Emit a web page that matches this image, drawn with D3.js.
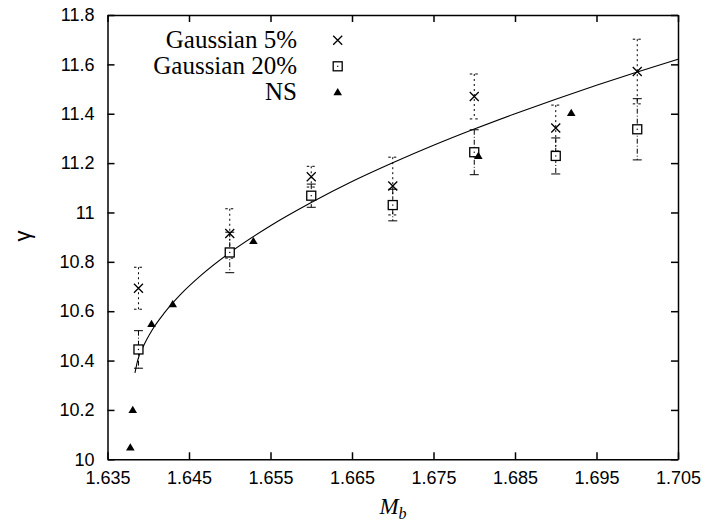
<!DOCTYPE html>
<html lang="en">
<head>
<meta charset="UTF-8">
<title>gamma vs M_b</title>
<style>
  body { margin: 0; background: #fff; }
  svg { display: block; }
  .serif { font-family: "Liberation Serif", "Times New Roman", serif; fill: #000; }
</style>
</head>
<body>
<svg width="708" height="525"></svg>
<script src="https://d3js.org/d3.v7.min.js"></script>
<script>
    // data
    const xTicks = [1.635, 1.645, 1.655, 1.665, 1.675, 1.685, 1.695, 1.705];
    const xTickLabels = ["1.635", "1.645", "1.655", "1.665", "1.675", "1.685", "1.695", "1.705"];
    const yTicks = [10, 10.2, 10.4, 10.6, 10.8, 11, 11.2, 11.4, 11.6, 11.8];
    const yTickLabels = ["10", "10.2", "10.4", "10.6", "10.8", "11", "11.2", "11.4", "11.6", "11.8"];

    // Gaussian runs share the same masses
    const gaussMb = [1.6388, 1.65, 1.66, 1.67, 1.68, 1.69, 1.70];
    const gauss5 = [10.693, 10.915, 11.145, 11.107, 11.470, 11.342, 11.571];
    const gauss5Err = [0.085, 0.100, 0.042, 0.117, 0.091, 0.093, 0.131];
    const gauss20 = [10.445, 10.838, 11.068, 11.030, 11.244, 11.229, 11.337];
    const gauss20Err = [0.076, 0.082, 0.047, 0.064, 0.091, 0.073, 0.124];

    const nsMb = [1.6378, 1.6381, 1.6404, 1.6430, 1.6529, 1.6805, 1.6919];
    const nsGamma = [10.048, 10.200, 10.548, 10.628, 10.884, 11.229, 11.403];

    // fitted curve, read point by point
    const fitMb = [1.63837, 1.6387, 1.6394, 1.6405, 1.6420, 1.6440, 1.6465, 1.650, 1.655, 1.660,
                   1.665, 1.670, 1.675, 1.680, 1.685, 1.690, 1.695, 1.700, 1.705];
    const fitGamma = [10.350, 10.401, 10.458, 10.525, 10.594, 10.669, 10.746, 10.837, 10.946, 11.040,
                      11.125, 11.201, 11.272, 11.338, 11.400, 11.459, 11.515, 11.569, 11.621];

    const legendNames = ["Gaussian 5%", "Gaussian 20%", "NS"];

    const svg = d3.select("svg");
    const plotLeft = 107.5, plotRight = 678, plotTop = 15, plotBottom = 459.3;

    const x = d3.scaleLinear().domain([1.635, 1.705]).range([plotLeft, plotRight]);
    const y = d3.scaleLinear().domain([10, 11.8]).range([plotBottom, plotTop]);

    // axes with inward ticks on all four sides
    function styleAxis(g) {
        g.selectAll("path.domain").attr("stroke", "#000").attr("stroke-width", 1.5);
        g.selectAll(".tick line").attr("stroke", "#000").attr("stroke-width", 1.5);
        g.selectAll(".tick text")
            .attr("font-family", "'Liberation Sans', Arial, sans-serif")
            .attr("font-size", 18)
            .attr("fill", "#000");
    }

    svg.append("g")
        .attr("transform", `translate(0,${plotBottom})`)
        .call(d3.axisBottom(x).tickValues(xTicks).tickFormat((d, i) => xTickLabels[i])
            .tickSizeInner(-7).tickSizeOuter(0).tickPadding(12))
        .call(styleAxis);

    svg.append("g")
        .attr("transform", `translate(0,${plotTop})`)
        .call(d3.axisTop(x).tickValues(xTicks).tickFormat("")
            .tickSizeInner(-7).tickSizeOuter(0))
        .call(styleAxis);

    svg.append("g")
        .attr("transform", `translate(${plotLeft},0)`)
        .call(d3.axisLeft(y).tickValues(yTicks).tickFormat((d, i) => yTickLabels[i])
            .tickSizeInner(-7).tickSizeOuter(0).tickPadding(13))
        .call(styleAxis);

    svg.append("g")
        .attr("transform", `translate(${plotRight},0)`)
        .call(d3.axisRight(y).tickValues(yTicks).tickFormat("")
            .tickSizeInner(-7).tickSizeOuter(0))
        .call(styleAxis);

    // axis titles
    svg.append("text")
        .attr("transform", "translate(30,236) rotate(-90)")
        .attr("text-anchor", "middle")
        .attr("font-family", "'Liberation Sans', Arial, sans-serif")
        .attr("font-size", 22)
        .text("γ");

    const mb = svg.append("text")
        .attr("class", "serif")
        .attr("x", 393)
        .attr("y", 514)
        .attr("text-anchor", "middle")
        .attr("font-size", 23)
        .attr("font-style", "italic");
    mb.append("tspan").text("M");
    mb.append("tspan").attr("font-size", 16).attr("dy", 5).text("b");

    // fit curve
    const line = d3.line()
        .x((d, i) => x(fitMb[i]))
        .y(d => y(d))
        .curve(d3.curveMonotoneX);

    svg.append("path")
        .attr("d", line(fitGamma))
        .attr("fill", "none")
        .attr("stroke", "#000")
        .attr("stroke-width", 1.1);

    // error bars
    function errorBars(vals, errs, dash, capDash) {
        const g = svg.append("g").attr("stroke", "#000").attr("stroke-width", 1);
        const bars = g.selectAll("g").data(vals).join("g");
        bars.append("line")
            .attr("x1", (d, i) => x(gaussMb[i])).attr("x2", (d, i) => x(gaussMb[i]))
            .attr("y1", (d, i) => y(d + errs[i])).attr("y2", (d, i) => y(d - errs[i]))
            .attr("stroke-dasharray", dash);
        [1, -1].forEach(s => {
            bars.append("line")
                .attr("x1", (d, i) => x(gaussMb[i]) - 4.5).attr("x2", (d, i) => x(gaussMb[i]) + 4.5)
                .attr("y1", (d, i) => y(d + s * errs[i])).attr("y2", (d, i) => y(d + s * errs[i]))
                .attr("stroke-dasharray", capDash);
        });
    }
    errorBars(gauss5, gauss5Err, "2,3", "2.5,3");
    errorBars(gauss20, gauss20Err, "5,2,1,2", null);

    // marker shapes
    function cross(g, cx, cy) {
        g.append("path")
            .attr("d", `M${cx - 4.5},${cy - 4.5}L${cx + 4.5},${cy + 4.5}M${cx - 4.5},${cy + 4.5}L${cx + 4.5},${cy - 4.5}`)
            .attr("stroke", "#000").attr("stroke-width", 1.3).attr("fill", "none");
    }
    function box(g, cx, cy) {
        g.append("rect")
            .attr("x", cx - 4.5).attr("y", cy - 4.5).attr("width", 9).attr("height", 9)
            .attr("fill", "#fff").attr("stroke", "#000").attr("stroke-width", 1.3);
        g.append("rect")
            .attr("x", cx - 0.6).attr("y", cy - 0.6).attr("width", 1.2).attr("height", 1.2)
            .attr("fill", "#000");
    }
    function tri(g, cx, cy) {
        g.append("path")
            .attr("d", `M${cx},${cy - 4.2}L${cx + 4.3},${cy + 3}L${cx - 4.3},${cy + 3}Z`)
            .attr("fill", "#000");
    }

    const marks = svg.append("g");
    gauss20.forEach((v, i) => box(marks, x(gaussMb[i]), y(v)));
    gauss5.forEach((v, i) => cross(marks, x(gaussMb[i]), y(v)));
    nsGamma.forEach((v, i) => tri(marks, x(nsMb[i]), y(v)));

    // legend
    const legend = svg.append("g");
    const legendMarks = [cross, box, tri];
    legendNames.forEach((name, i) => {
        const base = 48.3 + i * 26;
        legend.append("text")
            .attr("class", "serif")
            .attr("x", 297)
            .attr("y", base)
            .attr("text-anchor", "end")
            .attr("font-size", 25)
            .text(name);
        legendMarks[i](legend, 337.7, base - 8);
    });
</script>
</body>
</html>
